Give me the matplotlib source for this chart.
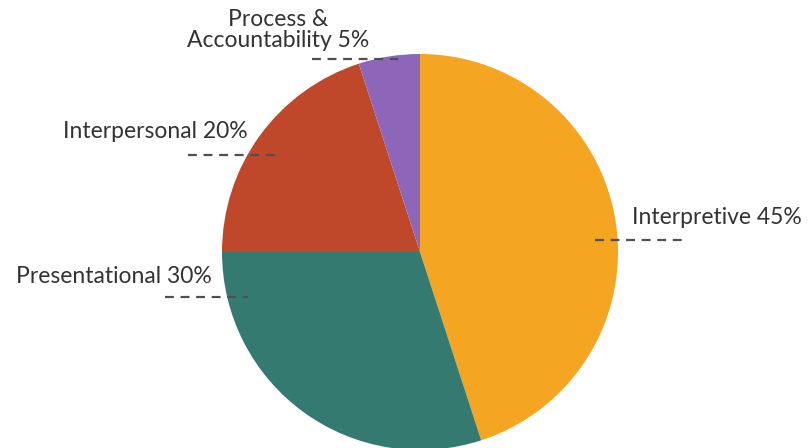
import matplotlib.pyplot as plt

# slice data, clockwise from 12 o'clock
labels = ["Interpretive", "Presentational", "Interpersonal", "Process &\nAccountability"]
shares = [45, 30, 20, 5]
colors = ["#F4A522", "#357A71", "#C0482A", "#8D66B9"]

W, H = 808, 448
CENTER = (420, H - 252)
RADIUS = 198

# label anchor (x, y in px from top, ha) and leader line (x0, x1, y)
label_layout = [
    (632, 217, "left", (595, 683, 240)),
    (212, 276, "right", (165, 248, 297)),
    (248, 131, "right", (188, 275, 155)),
    (278, 30, "center", (312, 398, 59)),
]

plt.rcParams["font.family"] = ["Lato", "DejaVu Sans"]

fig = plt.figure(figsize=(W / 100, H / 100), dpi=100)
ax = fig.add_axes([0, 0, 1, 1])

ax.pie(
    shares,
    colors=colors,
    startangle=90,
    counterclock=False,
    center=CENTER,
    radius=RADIUS,
    wedgeprops={"linewidth": 0},
    frame=True,
)
ax.set_xlim(0, W)
ax.set_ylim(0, H)
ax.set_aspect("equal")
ax.axis("off")

for label, share, (tx, ty, ha, (x0, x1, ly)) in zip(labels, shares, label_layout):
    ax.text(tx, H - ty, f"{label} {share}%", ha=ha, va="center",
            fontsize=16.5, color="#333333", linespacing=0.95)
    ax.plot([x0, x1], [H - ly, H - ly], color="#505050", lw=1.6,
            dashes=(4, 3), solid_capstyle="butt")

fig.savefig("out.png", dpi=100)
